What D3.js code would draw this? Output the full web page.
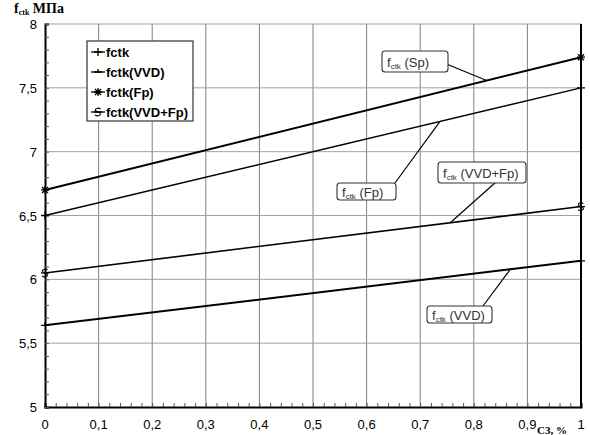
<!DOCTYPE html>
<html><head><meta charset="utf-8">
<script src="https://cdn.jsdelivr.net/npm/d3@7/dist/d3.min.js"></script>
<style>body{margin:0;background:#fff}svg{display:block}</style>
</head><body><svg id="c" width="590" height="435"></svg>
<script>
const xValues = [0, 1];
const seriesNames = ["fctk", "fctk(VVD)", "fctk(Fp)", "fctk(VVD+Fp)"];
const fctkSp = [6.70, 7.74];
const fctkFp = [6.50, 7.50];
const fctkVVDFp = [6.05, 6.57];
const fctkVVD = [5.64, 6.145];
const xTicks = [0,0.1,0.2,0.3,0.4,0.5,0.6,0.7,0.8,0.9,1];
const yTicks = [5,5.5,6,6.5,7,7.5,8];
const annotations = [
  {sub:"ctk", rest:" (Sp)", series:0, at:0.824},
  {sub:"ctk", rest:" (Fp)", series:1, at:0.737},
  {sub:"ctk", rest:" (VVD+Fp)", series:2, at:0.756},
  {sub:"ctk", rest:" (VVD)", series:3, at:0.868}
];

const svg = d3.select("#c");
const x = d3.scaleLinear().domain([0,1]).range([45,581]);
const y = d3.scaleLinear().domain([5,8]).range([407,24]);
const fmt = d => String(d).replace(".", ",");

// grid
svg.append("g").selectAll("line").data(xTicks.slice(1,-1)).join("line")
  .attr("x1",d=>x(d)).attr("x2",d=>x(d)).attr("y1",y(5)).attr("y2",y(8))
  .attr("stroke","#808080").attr("stroke-width",1);
svg.append("g").selectAll("line").data(yTicks.slice(1)).join("line")
  .attr("x1",x(0)).attr("x2",x(1)).attr("y1",d=>y(d)).attr("y2",d=>y(d))
  .attr("stroke","#a0a0a0").attr("stroke-width",1);

// axes
const xAxis = d3.axisBottom(x).tickValues(d3.range(0,1.0001,0.02)).tickSize(-4).tickFormat("");
const gx = svg.append("g").attr("transform",`translate(0,${y(5)})`).call(xAxis);
gx.select(".domain").attr("stroke","#000").attr("stroke-width",2);
gx.selectAll(".tick line").attr("stroke","#555");
const yAxis = d3.axisLeft(y).tickValues(d3.range(5,8.001,0.1)).tickSize(-4).tickFormat("");
const gy = svg.append("g").attr("transform",`translate(${x(0)},0)`).call(yAxis);
gy.select(".domain").attr("stroke","#000").attr("stroke-width",2);
gy.selectAll(".tick line").attr("stroke","#555");
svg.append("line").attr("x1",x(1)).attr("x2",x(1)).attr("y1",y(8)).attr("y2",y(5)+1)
  .attr("stroke","#000").attr("stroke-width",2);

// tick labels
svg.append("g").selectAll("text").data(xTicks).join("text")
  .attr("x",d=>x(d)).attr("y",429).attr("text-anchor","middle")
  .attr("font-family","Liberation Sans, Arial").attr("font-size",13).attr("fill","#000")
  .text(d=>fmt(d));
svg.append("g").selectAll("text").data(yTicks).join("text")
  .attr("x",37).attr("y",d=>y(d)+5).attr("text-anchor","end")
  .attr("font-family","Liberation Sans, Arial").attr("font-size",13).attr("fill","#000")
  .text(d=>fmt(d));

// title
const t = svg.append("text").attr("x",14).attr("y",13)
  .attr("font-family","Liberation Serif, Times New Roman").attr("font-weight","bold").attr("font-size",14);
t.append("tspan").text("f");
t.append("tspan").attr("font-size",8).attr("dy",1.5).text("ctk");
t.append("tspan").attr("dy",-1.5).text("  МПа");
const xl = svg.append("text").attr("x",537).attr("y",434)
  .attr("font-family","Liberation Serif, Times New Roman").attr("font-weight","bold").attr("font-size",11)
  .text("С3, %");

// lines
const data = [fctkSp, fctkFp, fctkVVDFp, fctkVVD];
const widths = [2, 1.3, 1.6, 2];
const markers = ["star","plus","dollar","dash"];
const line = d3.line().x((d,i)=>x(xValues[i])).y(d=>y(d));
data.forEach((s,k)=>{
  svg.append("path").datum(s).attr("d",line).attr("fill","none")
    .attr("stroke","#000").attr("stroke-width",widths[k]);
});

function marker(g, type, cx, cy){
  const m = g.append("g").attr("transform",`translate(${cx},${cy})`).attr("stroke","#000").attr("fill","none").attr("stroke-width",1.3);
  if(type==="star"){
    m.append("path").attr("d","M-4,0H4M0,-4V4M-3,-3L3,3M-3,3L3,-3");
  } else if(type==="plus"){
    m.append("path").attr("d","M-4,0H4M0,-4V4");
  } else if(type==="dollar"){
    m.append("path").attr("d","M2.5,-3C1,-4.5 -3,-4 -2.5,-1.5C-2,0 2.5,0 2.5,2C2.5,4 -1.5,4.5 -3,3").attr("stroke-width",1.1);
    m.append("path").attr("d","M-4,0H4");
  } else {
    m.append("path").attr("d","M-4,0H4M0,-3V0");
  }
}
data.forEach((s,k)=>{
  s.forEach((v,i)=>marker(svg, markers[k], x(xValues[i]), y(v)));
});

// legend
const lg = svg.append("g");
lg.append("rect").attr("x",87).attr("y",41).attr("width",106).attr("height",80)
  .attr("fill","#fff").attr("stroke","#333").attr("stroke-width",1.2);
const legMarkers = ["plus","dash","star","dollar"];
seriesNames.forEach((n,i)=>{
  const yy = 52 + i*20;
  lg.append("line").attr("x1",91).attr("x2",105).attr("y1",yy).attr("y2",yy).attr("stroke","#000").attr("stroke-width",1.3);
  marker(lg, legMarkers[i], 98, yy);
  lg.append("text").attr("x",106).attr("y",yy+5).attr("font-family","Liberation Sans, Arial")
    .attr("font-weight","bold").attr("font-size",13).text(n);
});

// annotations
const boxes = [
  {bx:382, by:51, bw:66, bh:21, lx:444, ly:63},
  {bx:337, by:183, bw:59, bh:17, lx:395, ly:183},
  {bx:438, by:162, bw:88, bh:21, lx:496, ly:182},
  {bx:427, by:306, bw:65, bh:17, lx:483, ly:306}
];
annotations.forEach((a,i)=>{
  const b = boxes[i];
  const s = data[a.series];
  const vx = x(a.at), vy = y(s[0] + (s[1]-s[0])*a.at);
  svg.append("line").attr("x1",b.lx).attr("y1",b.ly).attr("x2",vx).attr("y2",vy)
    .attr("stroke","#000").attr("stroke-width",1.2);
  svg.append("rect").attr("x",b.bx).attr("y",b.by).attr("width",b.bw).attr("height",b.bh)
    .attr("rx",3).attr("fill","#fff").attr("stroke","#333").attr("stroke-width",1.1);
  const tx = svg.append("text").attr("x",b.bx+5).attr("y",b.by+b.bh/2+5)
    .attr("font-family","Liberation Sans, Arial").attr("font-size",13).attr("fill","#333");
  tx.append("tspan").text("f");
  tx.append("tspan").attr("font-size",8).attr("dy",2).text(a.sub);
  tx.append("tspan").attr("dy",-2).text(a.rest);
});
</script></body></html>
